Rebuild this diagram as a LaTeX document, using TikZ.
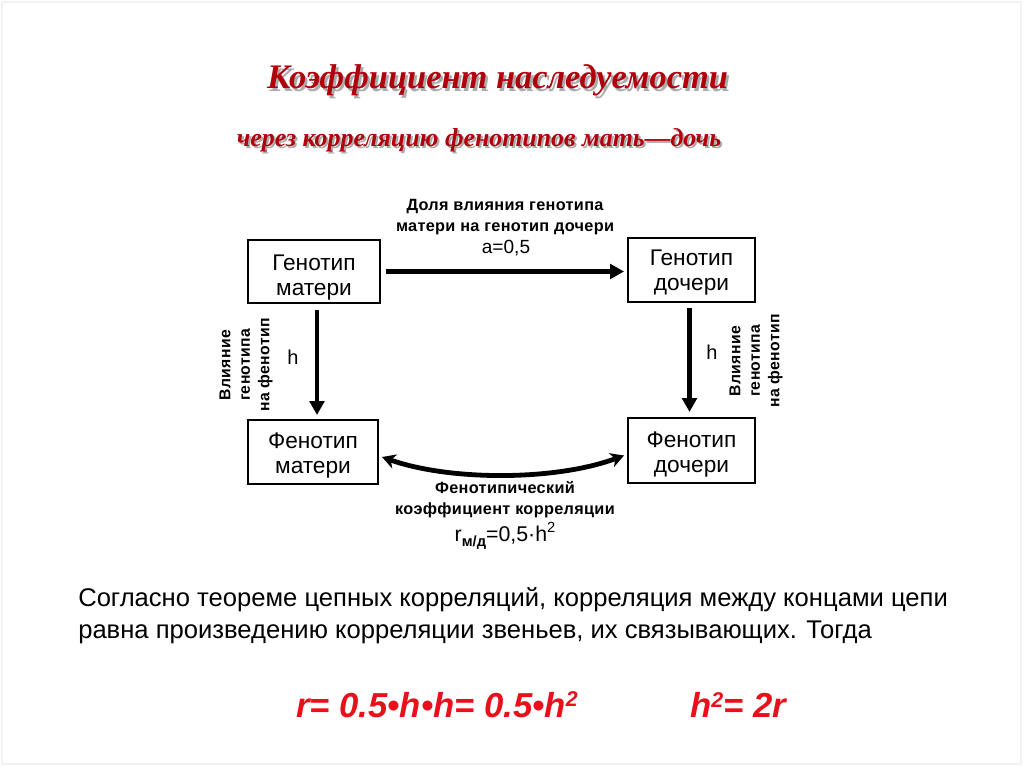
\documentclass[tikz,border=0pt]{standalone}
\usepackage{fontspec}
\setmainfont{Liberation Serif}
\newfontfamily\arial{Liberation Sans}
\newfontfamily\arialw[LetterSpace=2]{Liberation Sans}
\usetikzlibrary{arrows.meta}
\definecolor{titlered}{HTML}{B0000C}
\definecolor{formred}{HTML}{E8101A}
\definecolor{shadowgray}{HTML}{ABABAB}
\definecolor{framegray}{HTML}{F2F2F2}
\newcommand{\supsq}{\raisebox{8pt}{\fontsize{16pt}{16pt}\selectfont 2}}
\tikzset{
  box/.style={draw, line width=1.5pt, minimum width=130*0.75pt, minimum height=64*0.75pt, inner sep=0pt},
  boxtext/.style={align=center, inner sep=0pt, font=\arial\fontsize{17pt}{18.75pt}\selectfont},
  bigarrow/.style={line width=3.6pt, -{Triangle[length=10.5pt,width=11pt]}},
  curvearrow/.style={line width=3.6pt, {Stealth[length=10pt,width=11pt,inset=3pt]}-{Stealth[length=10pt,width=11pt,inset=3pt]}},
  lbl/.style={align=center, inner sep=0pt, font=\arialw\bfseries\fontsize{12.2pt}{15.75pt}\selectfont},
  rotlbl/.style={align=center, inner sep=0pt, rotate=90, font=\arialw\bfseries\fontsize{11.8pt}{14.6pt}\selectfont},
  titlefont/.style={font=\bfseries\itshape\fontsize{25.8pt}{30pt}\selectfont},
  subfont/.style={font=\bfseries\itshape\fontsize{19.4pt}{22pt}\selectfont},
  formula/.style={anchor=west, inner sep=0pt, text=formred, font=\arial\bfseries\itshape\fontsize{26pt}{28pt}\selectfont},
}
\begin{document}
\begin{tikzpicture}[x=0.75pt,y=-0.75pt]
\useasboundingbox (0,0) rectangle (1024,767);
\draw[framegray, line width=1.2pt] (2,2) rectangle (1021,764);
% titles
\node[titlefont, text=shadowgray] (titleshadow) at (500,83) {Коэффициент наследуемости};
\node[titlefont, text=titlered] (title) at (497.5,80.5) {Коэффициент наследуемости};
\node[subfont, text=shadowgray] (subshadow) at (481,142) {через корреляцию фенотипов мать—дочь};
\node[subfont, text=titlered] (sub) at (479,140) {через корреляцию фенотипов мать—дочь};
% boxes
\node[box, minimum width=132*0.75pt, minimum height=63*0.75pt] (gm) at (314,271.5) {};
\node[box, minimum width=127*0.75pt] (gd) at (691.5,270) {};
\node[box] (pm) at (313,452) {};
\node[box, minimum width=127*0.75pt, minimum height=65*0.75pt] (pd) at (691.5,450.5) {};
\node[boxtext] (gmt) at ([yshift=-6*0.75pt]gm.center) {Генотип\\матери};
\node[boxtext] (gdt) at ([yshift=-3*0.75pt]gd.center) {Генотип\\дочери};
\node[boxtext] (pmt) at ([yshift=-3.5*0.75pt]pm.center) {Фенотип\\матери};
\node[boxtext] (pdt) at ([yshift=-4*0.75pt]pd.center) {Фенотип\\дочери};
% arrows
\draw[bigarrow] ([xshift=5*0.75pt]gm.east) -- ([xshift=-3*0.75pt]gm.east -| gd.west);
\draw[bigarrow] ([xshift=3*0.75pt,yshift=-6*0.75pt]gm.south) -- ([xshift=4*0.75pt,yshift=4*0.75pt]pm.north);
\draw[bigarrow] ([xshift=-2*0.75pt,yshift=-5*0.75pt]gd.south) -- ([xshift=-2*0.75pt,yshift=5*0.75pt]pd.north);
\draw[curvearrow] ([xshift=3*0.75pt,yshift=-5*0.75pt]pm.east) .. controls (450,481) and (555,481) .. ([xshift=-3*0.75pt,yshift=-5*0.75pt]pd.west);
% labels
\node[lbl] (toplbl) at (505,217) {Доля влияния генотипа\\матери на генотип дочери};
\node[inner sep=0pt, font=\arial\fontsize{14.3pt}{16pt}\selectfont] (aval) at (506,248) {a=0,5};
\node[inner sep=0pt, font=\arial\fontsize{15pt}{16pt}\selectfont] (hl) at (293,357) {h};
\node[inner sep=0pt, font=\arial\fontsize{15pt}{16pt}\selectfont] (hr) at (712,352) {h};
\node[rotlbl] (ll) at (246,365) {Влияние\\генотипа\\на фенотип};
\node[rotlbl] (rl) at (756,361) {Влияние\\генотипа\\на фенотип};
\node[lbl] (botlbl) at (505,500) {Фенотипический\\коэффициент корреляции};
\node[inner sep=0pt, font=\arial\fontsize{16pt}{18pt}\selectfont] (rval) at (505,536)
  {r\raisebox{-4pt}{\bfseries\fontsize{11pt}{12pt}\selectfont м/д}=0,5·h\raisebox{6.5pt}{\fontsize{11pt}{12pt}\selectfont 2}};
% paragraph
\node[anchor=west, align=left, inner sep=0pt, font=\arial\fontsize{19.2pt}{24pt}\selectfont] (para) at (78,616)
  {Согласно теореме цепных корреляций, корреляция между концами цепи\\равна произведению корреляции звеньев, их связывающих. Тогда};
% formulas
\node[formula] (f1) at (296,705) {r= 0.5•h•h= 0.5•h\supsq};
\node[formula] (f2) at (690,705) {h\supsq= 2r};
\end{tikzpicture}
\end{document}
